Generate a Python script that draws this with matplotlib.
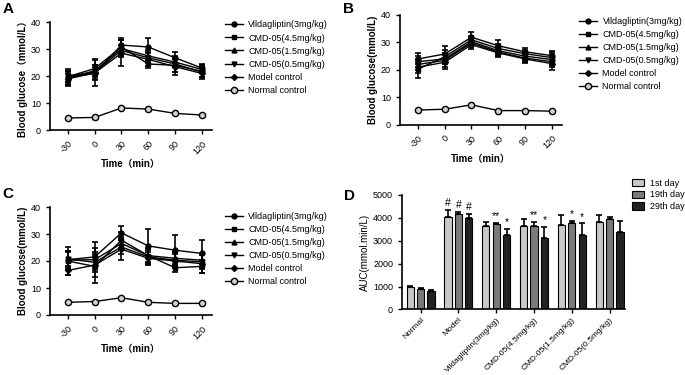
import matplotlib
matplotlib.use("Agg")
import matplotlib.pyplot as plt
from matplotlib.lines import Line2D
import numpy as np

plt.rcParams['font.family'] = ['Liberation Sans', 'Noto Sans CJK SC', 'DejaVu Sans']

time_min = [-30, 0, 30, 60, 90, 120]
series_names = ['Vildagliptin(3mg/kg)', 'CMD-05(4.5mg/kg)', 'CMD-05(1.5mg/kg)',
                'CMD-05(0.5mg/kg)', 'Model control', 'Normal control']

# Panel A
a_vilda = [19.5, 21.0, 31.5, 30.8, 26.8, 23.0]
a_cmd45 = [19.8, 22.8, 30.8, 24.5, 24.0, 21.8]
a_cmd15 = [19.2, 22.0, 30.2, 27.5, 25.2, 22.5]
a_cmd05 = [20.0, 21.5, 29.5, 26.8, 24.5, 21.5]
a_model = [19.0, 21.2, 28.5, 26.2, 23.5, 21.0]
a_normal = [4.5, 4.7, 8.2, 7.8, 6.2, 5.6]
a_vilda_err = [2.5, 2.5, 2.5, 3.5, 2.0, 1.5]
a_cmd45_err = [3.0, 3.0, 2.5, 1.5, 2.5, 2.0]
a_cmd15_err = [1.5, 2.0, 3.0, 2.0, 2.0, 1.5]
a_cmd05_err = [2.0, 2.5, 2.0, 2.0, 3.0, 2.0]
a_model_err = [2.5, 5.0, 4.7, 2.5, 3.0, 2.0]
a_normal_err = [0.4, 0.4, 0.5, 0.5, 0.4, 0.4]

# Panel B
b_vilda = [24.0, 25.8, 31.9, 28.8, 26.6, 25.2]
b_cmd45 = [20.3, 24.8, 31.0, 27.8, 25.9, 24.5]
b_cmd15 = [23.0, 24.0, 30.3, 27.0, 25.0, 23.8]
b_cmd05 = [22.0, 23.5, 29.8, 26.5, 24.3, 23.0]
b_model = [21.0, 22.8, 29.2, 26.2, 24.0, 22.3]
b_normal = [5.4, 5.7, 7.3, 5.2, 5.2, 5.0]
b_vilda_err = [2.0, 2.8, 1.8, 2.2, 1.3, 1.8]
b_cmd45_err = [3.2, 2.5, 1.5, 1.8, 1.5, 2.0]
b_cmd15_err = [2.0, 2.0, 1.5, 1.5, 1.5, 2.0]
b_cmd05_err = [2.0, 2.5, 1.5, 1.5, 1.5, 2.0]
b_model_err = [2.0, 2.5, 1.5, 1.5, 1.5, 2.5]
b_normal_err = [0.3, 0.3, 0.4, 0.3, 0.3, 0.3]

# Panel C
c_vilda = [20.5, 21.5, 30.4, 25.6, 24.0, 22.8]
c_cmd45 = [20.0, 18.0, 27.7, 22.0, 17.5, 18.0]
c_cmd15 = [20.3, 20.5, 26.5, 22.0, 21.0, 20.3]
c_cmd05 = [20.8, 19.5, 25.2, 21.5, 20.3, 19.7]
c_model = [16.5, 18.5, 24.4, 21.0, 20.0, 19.0]
c_normal = [4.7, 5.0, 6.4, 4.7, 4.3, 4.3]
c_vilda_err = [3.0, 5.5, 2.6, 6.4, 5.8, 4.9]
c_cmd45_err = [5.2, 4.0, 3.0, 3.0, 1.5, 2.5]
c_cmd15_err = [3.5, 3.0, 2.5, 2.5, 2.5, 2.5]
c_cmd05_err = [3.0, 3.0, 2.5, 2.5, 2.5, 2.5]
c_model_err = [1.5, 6.5, 4.0, 2.5, 2.5, 3.5]
c_normal_err = [0.3, 0.3, 0.4, 0.3, 0.3, 0.3]

# Panel D
groups = ['Normal', 'Model', 'Vildagliptin(3mg/kg)', 'CMD-05(4.5mg/kg)',
          'CMD-05(1.5mg/kg)', 'CMD-05(0.5mg/kg)']
day_labels = ['1st day', '19th day', '29th day']
auc_day1 = [980, 4036, 3660, 3630, 3705, 3806]
auc_day19 = [890, 4157, 3720, 3645, 3780, 3970]
auc_day29 = [813, 3976, 3268, 3117, 3268, 3388]
auc_err1 = [40, 330, 165, 300, 400, 300]
auc_err19 = [40, 120, 75, 180, 100, 60]
auc_err29 = [40, 210, 255, 500, 500, 460]
sig_day1 = ['', '#', '', '', '', '']
sig_day19 = ['', '#', '**', '**', '*', '']
sig_day29 = ['', '#', '*', '*', '*', '']

markers = ['o', 's', '^', 'v', 'D', 'o']
lw = 1.0

fig = plt.figure(figsize=(6.85, 3.75), dpi=100)


def marker_style(i):
    if i == 5:
        return dict(marker='o', ms=4.5, mfc='#d0d0d0', mec='black', mew=1.0)
    return dict(marker=markers[i], ms=3.5 if markers[i] != 'D' else 3,
                mfc='black', mec='black')


def line_panel(rect, data, errs, ylabel, letter, letter_xy, legend_xy):
    ax = fig.add_axes(rect)
    for i, (y, e) in enumerate(zip(data, errs)):
        ax.errorbar(time_min, y, yerr=e, color='black', lw=lw,
                    capsize=2 if i == 5 else 2.5,
                    elinewidth=1.0 if i == 5 else 1.2,
                    capthick=1.0 if i == 5 else 1.2, zorder=3, **marker_style(i))
    ax.set_xlim(-50, 131)
    ax.set_ylim(0, 40)
    ax.set_yticks([0, 10, 20, 30, 40])
    ax.set_xticks(time_min)
    ax.set_xticklabels([str(t) for t in time_min], rotation=45, ha='right',
                       rotation_mode='anchor', fontsize=6.5)
    ax.tick_params(axis='y', labelsize=6.5, length=3, width=1)
    ax.tick_params(axis='x', length=3, width=1)
    for s in ['top', 'right']:
        ax.spines[s].set_visible(False)
    for s in ['left', 'bottom']:
        ax.spines[s].set_linewidth(1.2)
    ax.set_ylabel(ylabel, fontsize=7, fontweight='bold', labelpad=2)
    ax.set_xlabel('Time（min）', fontsize=7, fontweight='bold', labelpad=2)
    handles = [Line2D([], [], color='black', lw=lw, **marker_style(i))
               for i in range(len(series_names))]
    ax.legend(handles, series_names, loc='upper left', bbox_to_anchor=legend_xy,
              bbox_transform=fig.transFigure, frameon=False, fontsize=6.5,
              handlelength=2.0, handletextpad=0.6, labelspacing=0.45, borderaxespad=0)
    fig.text(letter_xy[0], letter_xy[1], letter, fontsize=11,
             fontweight='bold', va='top', ha='left')
    return ax


line_panel([0.073, 0.653, 0.236, 0.288],
           [a_vilda, a_cmd45, a_cmd15, a_cmd05, a_model, a_normal],
           [a_vilda_err, a_cmd45_err, a_cmd15_err, a_cmd05_err, a_model_err, a_normal_err],
           'Blood glucose（mmol/L）', 'A', (0.004, 0.995), (0.323, 0.955))
line_panel([0.584, 0.667, 0.236, 0.293],
           [b_vilda, b_cmd45, b_cmd15, b_cmd05, b_model, b_normal],
           [b_vilda_err, b_cmd45_err, b_cmd15_err, b_cmd05_err, b_model_err, b_normal_err],
           'Blood glucose(mmol/L)', 'B', (0.5, 0.995), (0.84, 0.965))
line_panel([0.073, 0.16, 0.236, 0.288],
           [c_vilda, c_cmd45, c_cmd15, c_cmd05, c_model, c_normal],
           [c_vilda_err, c_cmd45_err, c_cmd15_err, c_cmd05_err, c_model_err, c_normal_err],
           'Blood glucose(mmol/L)', 'C', (0.004, 0.5), (0.323, 0.445))

# Panel D
axd = fig.add_axes([0.587, 0.175, 0.325, 0.305])
x = np.arange(len(groups))
offset = 0.276
width = 0.19
colors = ['#c8c8c8', '#7a7a7a', '#222222']
for k, (vals, errs, sig) in enumerate([(auc_day1, auc_err1, sig_day1),
                                        (auc_day19, auc_err19, sig_day19),
                                        (auc_day29, auc_err29, sig_day29)]):
    xs = x + (k - 1) * offset
    axd.bar(xs, vals, width=width, color=colors[k], edgecolor='black', lw=0.8,
            label=day_labels[k], zorder=2)
    axd.errorbar(xs, vals, yerr=[np.zeros(len(vals)), errs], fmt='none',
                 ecolor='black', elinewidth=1.2, capsize=2.5, capthick=1.2, zorder=3)
    for xi, v, e, s in zip(xs, vals, errs, sig):
        if s:
            axd.annotate(s, (xi, v + e), xytext=(0, 1), textcoords='offset points',
                         ha='center', va='bottom', fontsize=7.5)
axd.set_xlim(-0.49, 5.4)
axd.set_ylim(0, 5000)
axd.set_yticks([0, 1000, 2000, 3000, 4000, 5000])
axd.set_xticks(x)
axd.set_xticklabels(groups, rotation=45, ha='right', rotation_mode='anchor', fontsize=6)
axd.tick_params(axis='y', labelsize=6.5, length=3, width=1)
axd.tick_params(axis='x', length=3, width=1, pad=2)
for s in ['top', 'right']:
    axd.spines[s].set_visible(False)
for s in ['left', 'bottom']:
    axd.spines[s].set_linewidth(1.2)
axd.set_ylabel('AUC(mmol.min/L)', fontsize=7, labelpad=2)
axd.legend(loc='upper left', bbox_to_anchor=(0.917, 0.533), bbox_transform=fig.transFigure,
           frameon=False, fontsize=6.5, handlelength=1.4, handleheight=0.9,
           handletextpad=0.6, labelspacing=0.3, borderaxespad=0)
fig.text(0.502, 0.497, 'D', fontsize=11, fontweight='bold', va='top', ha='left')

fig.savefig('out.png', dpi=100)
